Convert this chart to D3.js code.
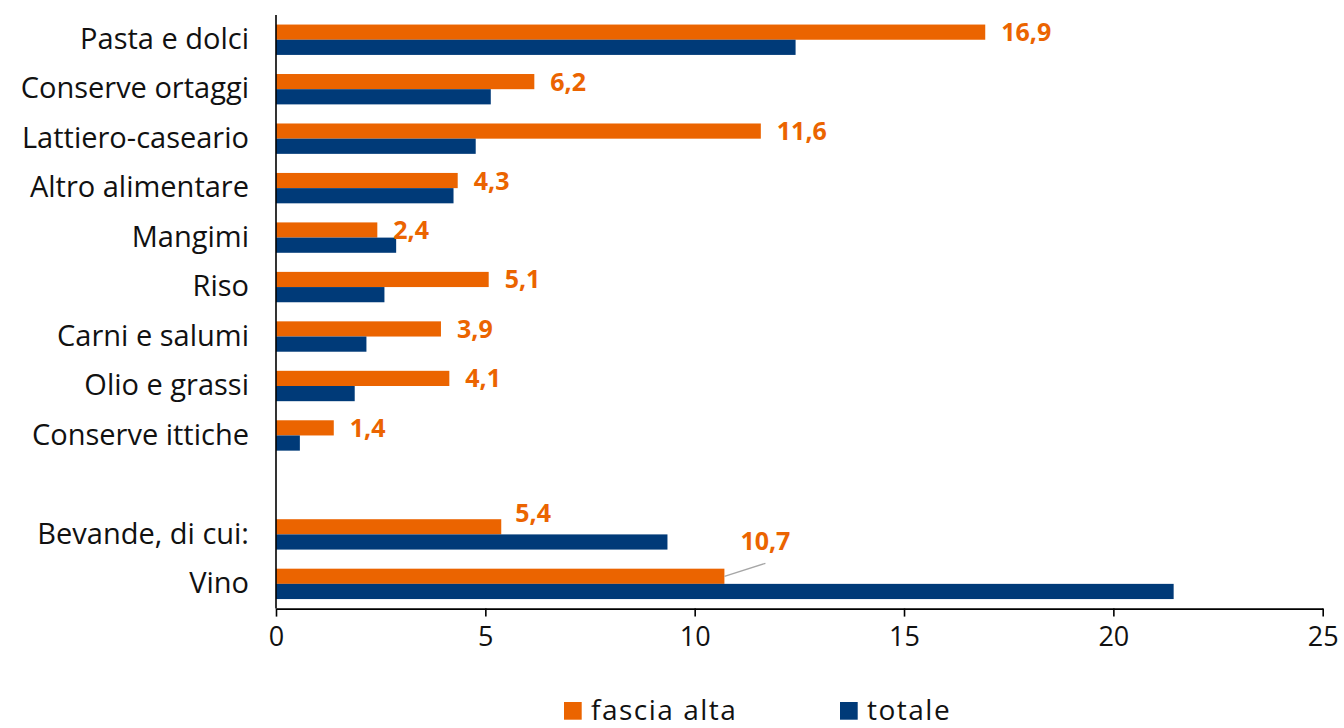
<!DOCTYPE html>
<html>
<head>
<meta charset="utf-8">
<script src="https://cdn.jsdelivr.net/npm/d3@7"></script>
<style>
  html, body { margin: 0; padding: 0; background: #fff; }
  svg { display: block; }
  text { font-family: "Open Sans", "DejaVu Sans", sans-serif; }
</style>
</head>
<body>
<div id="chart"></div>
<script>
// ---- data ----
const categories = ["Pasta e dolci", "Conserve ortaggi", "Lattiero-caseario", "Altro alimentare",
  "Mangimi", "Riso", "Carni e salumi", "Olio e grassi", "Conserve ittiche", "",
  "Bevande, di cui:", "Vino"];
const fasciaAlta = [16.94, 6.17, 11.58, 4.34, 2.42, 5.08, 3.94, 4.14, 1.38, null, 5.38, 10.71];
const totale = [12.41, 5.13, 4.77, 4.24, 2.87, 2.59, 2.16, 1.88, 0.57, null, 9.35, 21.44];
const seriesNames = ["fascia alta", "totale"];
const seriesColors = ["#EB6400", "#003A78"];
const xTicks = [0, 5, 10, 15, 20, 25];

// ---- layout ----
const W = 1344, H = 728;
const x0 = 276, x1 = 1322.7, yTop = 15, yBot = 608.6;

const svg = d3.select("#chart").append("svg").attr("width", W).attr("height", H);

const keys = categories.map((c, i) => i + "|" + c);
const x = d3.scaleLinear().domain([0, 25]).range([x0, x1]);
const y = d3.scaleBand().domain(keys).range([yTop, yBot]).paddingInner(0.386).paddingOuter(0.193);
const ySub = d3.scaleBand().domain(seriesNames).range([0, y.bandwidth()]);

const locale = d3.formatLocale({ decimal: ",", thousands: ".", grouping: [3], currency: ["", "€"] });
const fmt = locale.format(".1f");

// bars
const rows = categories.map((c, i) => ({ key: keys[i], name: c, vals: [fasciaAlta[i], totale[i]] }));
const g = svg.append("g");
rows.forEach(r => {
  r.vals.forEach((v, si) => {
    if (v == null) return;
    g.append("rect")
      .attr("x", x(0))
      .attr("y", y(r.key) + ySub(seriesNames[si]))
      .attr("width", x(v) - x(0))
      .attr("height", ySub.bandwidth())
      .attr("fill", seriesColors[si]);
  });
});

// value labels (fascia alta)
rows.forEach(r => {
  const v = r.vals[0];
  if (v == null) return;
  const cy = y(r.key) + ySub("fascia alta") + ySub.bandwidth() / 2;
  let lx = x(v) + 16, ly = cy;
  if (r.name === "Bevande, di cui:") { lx = x(v) + 14; ly = cy - 14; }
  if (r.name === "Vino") {
    lx = x(v) + 16; ly = cy - 35;
    svg.append("line")
      .attr("x1", x(v)).attr("y1", cy)
      .attr("x2", x(v) + 41).attr("y2", cy - 13)
      .attr("stroke", "#A6A6A6").attr("stroke-width", 1.3);
  }
  svg.append("text")
    .attr("x", lx).attr("y", ly)
    .attr("dy", "0.36em")
    .attr("fill", seriesColors[0])
    .attr("font-weight", "700")
    .attr("font-size", 25)
    .text(fmt(v));
});

// y axis
const yAxis = d3.axisLeft(y).tickSize(0).tickPadding(27).tickFormat(k => k.split("|")[1]);
const ya = svg.append("g").attr("transform", `translate(${x0},0)`).call(yAxis);
ya.select(".domain").attr("d", `M0,${yTop}V${yBot}`).attr("stroke", "#000").attr("stroke-width", 1.6);
ya.selectAll(".tick text").attr("font-size", 29).attr("fill", "#111").attr("font-family", "'Open Sans', sans-serif");

// x axis
const xAxis = d3.axisBottom(x).tickValues(xTicks).tickSize(8).tickSizeOuter(0).tickPadding(10).tickFormat(d3.format("d"));
const xa = svg.append("g").attr("transform", `translate(0,${yBot})`).call(xAxis);
xa.select(".domain").attr("stroke", "#000").attr("stroke-width", 1.6);
xa.selectAll(".tick line").attr("stroke", "#000").attr("stroke-width", 1.6);
xa.selectAll(".tick text").attr("font-size", 27).attr("fill", "#111").attr("font-family", "'Open Sans', sans-serif");

// legend
const legendX = [564, 840];
const leg = svg.append("g");
seriesNames.forEach((s, i) => {
  leg.append("rect").attr("x", legendX[i]).attr("y", 702).attr("width", 17.7).attr("height", 17.7).attr("fill", seriesColors[i]);
  leg.append("text").attr("x", legendX[i] + 27).attr("y", 719.5).attr("font-size", 28)
    .attr("letter-spacing", 1.5).attr("fill", "#111").text(s);
});
</script>
</body>
</html>
